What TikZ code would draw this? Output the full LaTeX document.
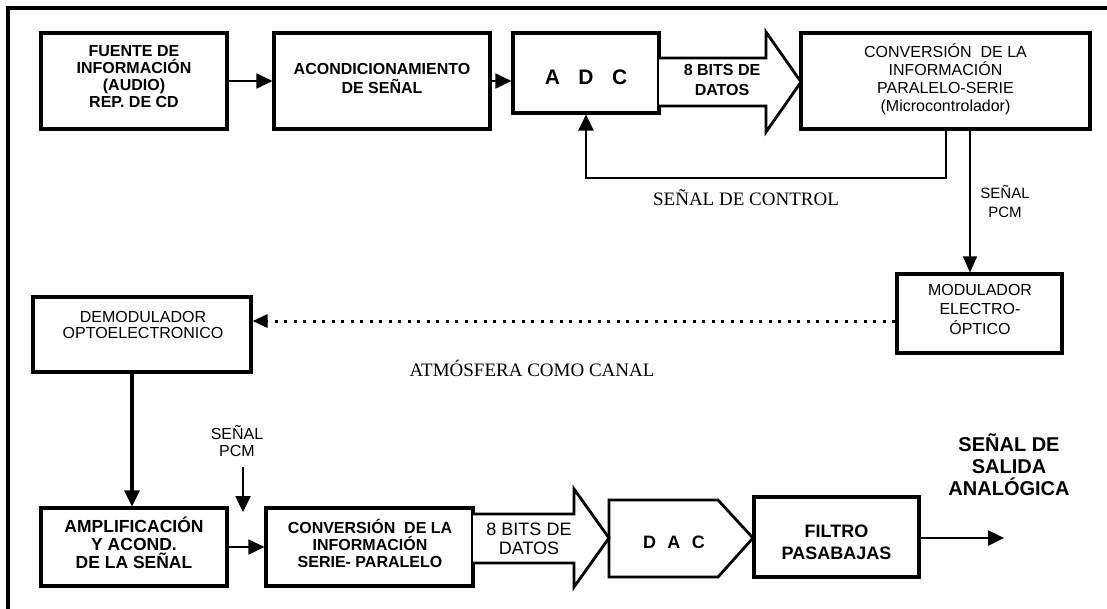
\documentclass[tikz,border=0pt]{standalone}
\usepackage{fontspec}
\setmainfont{Liberation Serif}
\setsansfont{Liberation Sans}
\usetikzlibrary{arrows.meta,calc}

\newcommand{\fs}[2]{\fontsize{#1}{#2}\selectfont}

\begin{document}
\begin{tikzpicture}[x=1pt,y=-1pt,
  blk/.style={draw,line width=3.1pt,rectangle,inner sep=0pt},
  txt/.style={align=center,inner sep=0pt},
  tipA/.style={-{Triangle[length=16pt,width=15pt]}},
  thinwire/.style={line width=1.8pt},
  midwire/.style={line width=2.5pt},
  bigarrow/.style={draw,line width=2.8pt,line join=miter,fill=white},
  serifnote/.style={txt,font=\rmfamily\fs{19}{21}}]

% page and clipped outer frame
\clip (0,0) rectangle (1107,608);
\fill[white] (0,0) rectangle (1107,608);
\draw[line width=3.2pt] (8,620) -- (8,8) -- (1120,8);

% ---------- transmitter row ----------
\node[blk,minimum width=186,minimum height=96] (fuente) at (134,81) {};
\node[txt,font=\sffamily\bfseries\fs{16}{17}] (fuenteT) at (134,77)
  {FUENTE DE\\INFORMACIÓN\\(AUDIO)\\REP. DE CD};

\node[blk,minimum width=216,minimum height=96] (acond) at (382,81) {};
\node[txt,font=\sffamily\bfseries\fs{16}{19}] (acondT) at (382,78)
  {ACONDICIONAMIENTO\\DE SEÑAL};

\node[blk,minimum width=146,minimum height=80] (adc) at (586,73) {};
\node[txt,font=\sffamily\bfseries\fs{21}{21}] (adcT) at (586,77)
  {A\hspace{18.5pt}D\hspace{18.5pt}C};

\node[blk,minimum width=289,minimum height=96] (conv1) at (945.5,81) {};
\node[txt,font=\sffamily\fs{16}{18}] (conv1T) at (945.5,79)
  {CONVERSIÓN\ \ DE LA\\INFORMACIÓN\\PARALELO-SERIE\\(Microcontrolador)};

% wide parallel-data arrow ADC -> converter
\path[bigarrow] (659,58) -- (766,58) -- (766,32) -- (801,82)
  -- (766,132) -- (766,106) -- (659,106);
\node[txt,font=\sffamily\bfseries\fs{16}{20}] (bits1) at (722,80)
  {8 BITS DE\\DATOS};

\draw[thinwire,tipA] (fuente) -- (acond);
\draw[thinwire,tipA] (acond.east) -- (acond.east -| adc.west);

% control feedback
\coordinate (ctl) at (946,178);
\draw[midwire,tipA] (conv1.south -| ctl) -- (ctl) -- (ctl -| adc.south) -- (adc.south);
\node[serifnote] (ctlL) at (746,198) {SEÑAL DE CONTROL};

% PCM output to the modulator
\node[blk,minimum width=165,minimum height=79] (mod) at (979.5,313.5) {};
\node[txt,font=\sffamily\fs{16}{19.5}] (modT) at (980,309)
  {MODULADOR\\ELECTRO-\\ÓPTICO};
\coordinate (pcmX) at (970,0);
\draw[line width=1.4pt,-{Triangle[length=16pt,width=14pt]}]
  (conv1.south -| pcmX) -- (mod.north -| pcmX);
\node[txt,font=\sffamily\fs{15}{19}] (pcm1) at (1005,201.5) {SEÑAL\\PCM};

% optical channel
\node[blk,minimum width=218,minimum height=75] (demod) at (142,334.5) {};
\node[txt,font=\sffamily\fs{16}{16.5}] (demodT) at (143,325)
  {DEMODULADOR\\OPTOELECTRONICO};
\coordinate (optY) at (0,321);
\draw[line width=3pt,dash pattern=on 3pt off 6.5pt,
      -{Triangle[length=15pt,width=13pt]}]
  (mod.west |- optY) -- (demod.east |- optY);
\node[serifnote] (atm) at (532,368) {ATMÓSFERA COMO CANAL};

% ---------- receiver row ----------
\node[blk,minimum width=186,minimum height=78] (amp) at (134,547) {};
\node[txt,font=\sffamily\bfseries\fs{17.5}{18}] (ampT) at (134,543)
  {AMPLIFICACIÓN\\Y ACOND.\\DE LA SEÑAL};

\node[blk,minimum width=207,minimum height=78] (conv2) at (369.5,547) {};
\node[txt,font=\sffamily\bfseries\fs{16}{17}] (conv2T) at (370,543)
  {CONVERSIÓN\ \ DE LA\\INFORMACIÓN\\SERIE- PARALELO};

\coordinate (dX) at (132,0);
\draw[line width=3.1pt,tipA] (demod.south -| dX) -- (amp.north -| dX);

\node[txt,font=\sffamily\fs{16}{17}] (pcm2) at (237,441) {SEÑAL\\PCM};
\coordinate (p2a) at (243,467);
\coordinate (p2b) at (243,512);
\draw[midwire,tipA] (p2a) -- (p2b);

\draw[thinwire,tipA] (amp) -- (conv2);

% wide parallel-data arrow converter -> DAC
\path[bigarrow] (473,514) -- (574,514) -- (574,489) -- (609,538)
  -- (574,587) -- (574,563) -- (473,563);
\node[txt,font=\sffamily\fs{18}{19}] (bits2) at (529,538.5) {8 BITS DE\\DATOS};

% DAC block with pointed output side
\draw[line width=2.8pt,line join=miter] (609,500) -- (718,500) -- (753,538)
  -- (718,577) -- (609,577) -- cycle;
\node[txt,font=\sffamily\bfseries\fs{18}{18}] (dac) at (674,542)
  {D\hspace{11.5pt}A\hspace{11.5pt}C};

\node[blk,minimum width=165,minimum height=80] (filtro) at (836.5,537) {};
\node[txt,font=\sffamily\bfseries\fs{18}{22}] (filtroT) at (836.5,542)
  {FILTRO\\PASABAJAS};

\coordinate (outEnd) at (1004,538);
\draw[midwire,-{Triangle[length=16pt,width=15pt]}] (filtro.east |- outEnd) -- (outEnd);
\node[txt,font=\sffamily\bfseries\fs{20}{22}] (outL) at (1009,465)
  {SEÑAL DE\\SALIDA\\ANALÓGICA};

\end{tikzpicture}
\end{document}
